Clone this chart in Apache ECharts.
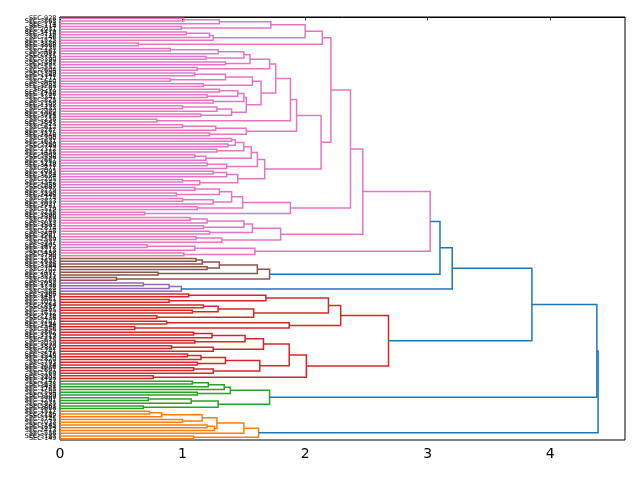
<!DOCTYPE html>
<html>
<head>
<meta charset="utf-8">
<script src="https://cdn.jsdelivr.net/npm/echarts@6/dist/echarts.min.js"></script>
<style>
  html, body { margin: 0; padding: 0; background: #fff; }
  #chart { width: 640px; height: 480px; }
</style>
</head>
<body>
<div id="chart"></div>
<script>
// leaf marker; internal node = [height, upperChild, lowerChild]
var L = 0;

// leaf labels, top to bottom
var leafLabels = [
  'SEC-928','SEC-3868','SEC-174','SEC-114','SEC-2031','SEC-1419','SEC-3116','SEC-146','SEC-1525','SEC-3126',
  'SEC-3808','SEC-2235','SEC-461','SEC-2087','SEC-715','SEC-3390','SEC-182','SEC-1937','SEC-552','SEC-2604',
  'SEC-309','SEC-1148','SEC-2771','SEC-640','SEC-3052','SEC-1283','SEC-97','SEC-2419','SEC-1706','SEC-3341',
  'SEC-825','SEC-2158','SEC-1392','SEC-433','SEC-2980','SEC-1064','SEC-3715','SEC-258','SEC-1847','SEC-2523',
  'SEC-612','SEC-3287','SEC-1175','SEC-2846','SEC-390','SEC-1631','SEC-3560','SEC-749','SEC-2312','SEC-1458',
  'SEC-3903','SEC-536','SEC-2667','SEC-1219','SEC-3478','SEC-871','SEC-2095','SEC-1784','SEC-3624','SEC-205',
  'SEC-1342','SEC-2958','SEC-687','SEC-3179','SEC-1590','SEC-2446','SEC-374','SEC-3833','SEC-1027','SEC-2731',
  'SEC-519','SEC-3256','SEC-1896','SEC-2380','SEC-763','SEC-3012','SEC-1503','SEC-2874','SEC-148','SEC-3697',
  'SEC-1261','SEC-2589','SEC-937','SEC-3405','SEC-1672','SEC-2213','SEC-458','SEC-3790','SEC-1109','SEC-2635',
  'SEC-1386','SEC-3144','SEC-702','SEC-2497','SEC-1915','SEC-3571','SEC-289','SEC-2052','SEC-1738','SEC-3328',
  'SEC-584','SEC-2906','SEC-1457','SEC-3681','SEC-1023','SEC-2264','SEC-817','SEC-3495','SEC-1612','SEC-2779',
  'SEC-436','SEC-3207','SEC-1194','SEC-2548','SEC-956','SEC-3862','SEC-1329','SEC-2113','SEC-675','SEC-3039',
  'SEC-1870','SEC-2362','SEC-241','SEC-3516','SEC-1545','SEC-2820','SEC-793','SEC-3274','SEC-1086','SEC-2691',
  'SEC-169','SEC-3952','SEC-1403','SEC-2147','SEC-628','SEC-3431','SEC-1768','SEC-2504','SEC-139','SEC-3069',
  'SEC-1291','SEC-2935','SEC-861','SEC-3608','SEC-1517','SEC-2286','SEC-142','SEC-3745','SEC-1033','SEC-145',
  'SEC-1654','SEC-2413','SEC-558','SEC-3187','SEC-149'
];

// clusters (heights)
var pinkTree = [3.02,
  [2.47,
    [2.37,
      [2.21,
        [2.14,
          [2.00,
            [1.72, [1.30, [1.01, L, L], L], [0.99, L, L]],
            [1.25, [1.22, [1.03, L, L], L], L]],
          [0.64, L, L]],
        [2.13,
          [1.93,
            [1.88,
              [1.76,
                [1.71,
                  [1.55, [1.50, [1.29, [0.90, L, L], L], [1.19, L, L]], [1.35, L, L]],
                  [1.12, L, L]],
                [1.64,
                  [1.57, [1.35, [1.10, L, L], [0.90, L, L]], [1.17, L, L]],
                  [1.52,
                    [1.50, [1.45, [1.30, L, L], [1.20, L, L]], [1.25, L, L]],
                    [1.40, [1.28, [1.00, L, L], L], [1.15, L, L]]]]],
              [0.79, L, L]],
            [1.52, [1.27, [1.00, L, L], L], [1.22, L, L]]],
          [1.67,
            [1.61,
              [1.56, [1.50, [1.43, [1.40, L, L], [1.37, L, L]], [1.28, L, L]], [1.19, [1.10, L, L], L]],
              [1.36, [1.20, L, L], L]],
            [1.45, [1.36, [1.25, L, L], L], [1.14, [1.00, L, L], L]]]]],
      [1.88,
        [1.49, [1.40, [1.30, [1.10, L, L], [0.95, L, L]], [1.25, [1.00, L, L], L]], [1.12, L, L]],
        [0.69, L, L]]],
    [1.80,
      [1.57, [1.50, [1.20, [1.06, L, L], L], [1.17, L, L]], [1.22, L, L]],
      [1.32, [1.11, L, L], L]]],
  [1.59, [1.10, [0.71, L, L], L], [1.01, L, L]]];

var brownTree = [1.71,
  [1.61, [1.30, [1.16, [1.11, L, L], L], [1.20, L, L]], [0.80, L, L]],
  [0.46, L, L]];

var purpleTree = [0.99, [0.89, [0.68, L, L], L], L];

var redTree = [2.68,
  [2.29,
    [2.19,
      [1.68, [1.05, L, L], [0.89, L, L]],
      [1.58, [1.29, [1.17, L, L], [1.08, L, L]], [0.79, L, L]]],
    [1.87, [0.87, L, L], [0.61, L, L]]],
  [2.01,
    [1.87,
      [1.66,
        [1.51, [1.24, [1.09, L, L], L], [1.10, L, L]],
        [1.25, [0.91, L, L], L]],
      [1.63,
        [1.35, [1.15, [1.04, L, L], L], [1.12, L, L]],
        [1.25, [1.09, L, L], L]]],
    [0.76, L, L]]];

var greenTree = [1.71,
  [1.39, [1.34, [1.21, [1.08, L, L], L], L], [1.12, L, L]],
  [1.29, [1.07, [0.72, L, L], L], [0.68, L, L]]];

var orangeTree = [1.62,
  [1.50,
    [1.28,
      [1.16, [0.83, [0.73, L, L], L], [1.00, L, L]],
      [1.26, [1.20, L, L], L]],
    L],
  [1.09, L, L]];

// merges above the colour threshold
var topHeights = [3.10, 3.20, 3.85, 4.38, 4.39];

var tree = [topHeights[4],
  [topHeights[3],
    [topHeights[2],
      [topHeights[1],
        [topHeights[0], pinkTree, brownTree],
        purpleTree],
      redTree],
    greenTree],
  orangeTree];

var aboveColor = '#1f77b4';
var clusterColors = ['#ff7f0e', '#2ca02c', '#d62728', '#9467bd', '#8c564b', '#e377c2', '#7f7f7f', '#bcbd22', '#17becf'];

// count leaves
function countLeaves(n) { return n === L ? 1 : countLeaves(n[1]) + countLeaves(n[2]); }
var N = countLeaves(tree);
var maxH = tree[0];
var threshold = 0.7 * maxH;

// assign cluster colour index walking from the bottom (like scipy)
var colorCounter = 0;
function assignColors(n, inherited) {
  if (n === L) return;
  var c = inherited;
  if (n[0] < threshold && inherited === -1) { c = colorCounter % clusterColors.length; colorCounter++; }
  n.colorIdx = n[0] < threshold ? c : -1;
  assignColors(n[2], n[0] < threshold ? c : -1);
  assignColors(n[1], n[0] < threshold ? c : -1);
}
assignColors(tree, -1);

// layout: leaf t (from the top) sits at 5 + 10 t
var links = [];
var leafCounter = 0;
function layout(n) {
  if (n === L) { var y = 5 + 10 * leafCounter; leafCounter++; return { y: y, h: 0 }; }
  var a = layout(n[1]);
  var b = layout(n[2]);
  links.push([a.h, a.y, n[0], a.y, n[0], b.y, b.h, b.y, n.colorIdx]);
  return { y: (a.y + b.y) / 2, h: n[0] };
}
layout(tree);

var chart = echarts.init(document.getElementById('chart'));
chart.setOption({
  animation: false,
  grid: { left: 60, right: 15, top: 17, bottom: 40, show: true, borderColor: '#000', borderWidth: 1 },
  xAxis: {
    type: 'value', min: 0, max: 1.05 * maxH, interval: 1,
    axisLine: { show: true, lineStyle: { color: '#000', width: 1 } },
    axisTick: { show: true, length: 3.5, lineStyle: { color: '#000', width: 0.8 } },
    axisLabel: { color: '#000', fontSize: 14, fontFamily: 'DejaVu Sans', margin: 7,
      showMaxLabel: false },
    splitLine: { show: false }
  },
  yAxis: [{
    type: 'category', data: leafLabels.slice(0, N), inverse: true,
    axisLine: { show: false }, axisTick: { show: false },
    axisLabel: { interval: 0, fontSize: 6.5, color: '#000', fontFamily: 'DejaVu Sans', margin: 3.5 },
    splitLine: { show: false }
  }, {
    type: 'value', min: 0, max: 10 * N, inverse: true, show: false,
    splitLine: { show: false }
  }],
  series: [{
    type: 'custom',
    xAxisIndex: 0,
    yAxisIndex: 1,
    data: links,
    renderItem: function (params, api) {
      var pts = [];
      for (var i = 0; i < 4; i++) {
        pts.push(api.coord([api.value(2 * i), api.value(2 * i + 1)]));
      }
      var ci = api.value(8);
      return {
        type: 'polyline',
        shape: { points: pts },
        style: { stroke: ci < 0 ? aboveColor : clusterColors[ci], lineWidth: 1.5, fill: 'none' }
      };
    }
  }]
});
console.log('leaves', N, 'labels', leafLabels.length);
</script>
</body>
</html>
